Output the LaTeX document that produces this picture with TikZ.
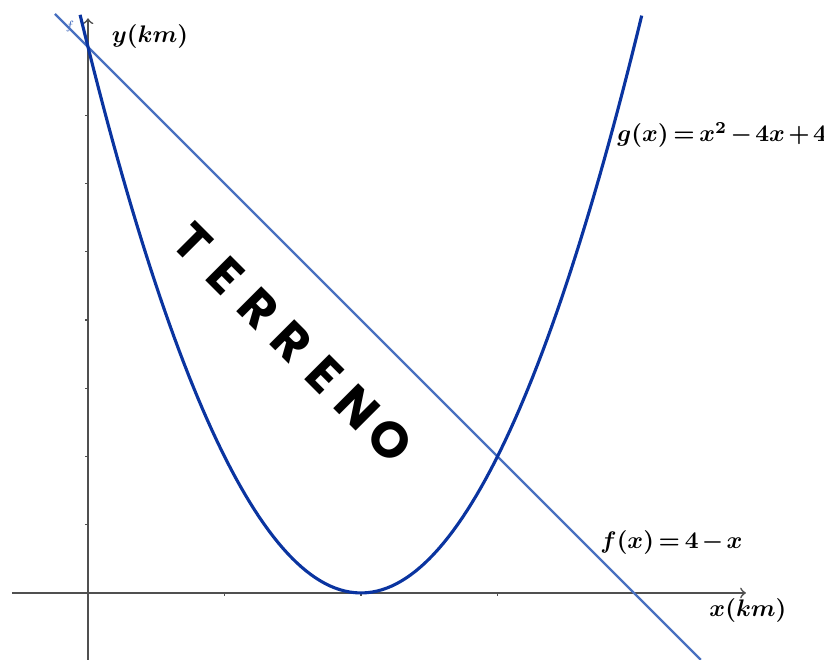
\documentclass[tikz,border=0pt]{standalone}
\usepackage{amsmath}
\usepackage{bm}
\usepackage{fontspec}
\newfontfamily\terrenofont{Poppins}
\usepackage{tikz}
\definecolor{parabolablue}{RGB}{10,52,160}
\definecolor{lineblue}{RGB}{72,112,192}
\definecolor{axisgray}{RGB}{80,80,80}
\newcommand{\mlbl}[1]{$\medmuskip=2.5mu\relax\thickmuskip=3.5mu\relax\bm{#1}$}
\tikzset{axis/.style={draw=axisgray, line width=0.7pt}}
\tikzset{tck/.style={draw=axisgray, line width=0.5pt}}
\tikzset{lbl/.style={inner sep=0pt, font=\fontsize{10}{12}\selectfont}}
\tikzset{letter/.style={inner sep=0pt, rotate=-45, font=\terrenofont\bfseries\fontsize{21}{21}\selectfont}}

\begin{document}
\begin{tikzpicture}[x=2cm,y=2cm]
\useasboundingbox (-0.6447,-0.4908) rectangle (5.392,4.344);
\draw[axis,-to] (-0.557,0) -- (4.82,0);
\draw[axis,-to] (0,-0.4908) -- (0,4.21);
\draw[tck]
\foreach \x in {1,2,3}{(\x,0) -- (\x,-0.025)}
\foreach \y in {0.5,1,...,3.5}{(0,\y) -- (-0.025,\y)}
;
\draw[lineblue, line width=1pt] (-0.242,4.242) -- (4.49,-0.49);
\draw[parabolablue, line width=1.3pt, domain=-0.058:4.058, samples=120]
plot (\x,{\x*\x-4*\x+4});
\node[lbl] (ylbl) at (0.454,4.073) {\mlbl{y(km)}};
\node[lbl] (xlbl) at (4.835,-0.132) {\mlbl{x(km)}};
\node[lbl, anchor=west] (glbl) at (3.875,3.355) {\mlbl{g(x)=x^2-4x+4}};
\node[lbl, anchor=west] (flbl) at (3.751,0.366) {\mlbl{f(x)=4-x}};
\node[inner sep=0pt, text=lineblue, font=\tiny] (fname) at (-0.132,4.147) {$f$};
\foreach \i/\l in {0/T,1/E,2/R,3/R,4/E,5/N,6/O}{
\node[letter] (t\i) at (0.769+0.2405*\i, 2.564-0.2405*\i) {\l};
}
\end{tikzpicture}
\end{document}
